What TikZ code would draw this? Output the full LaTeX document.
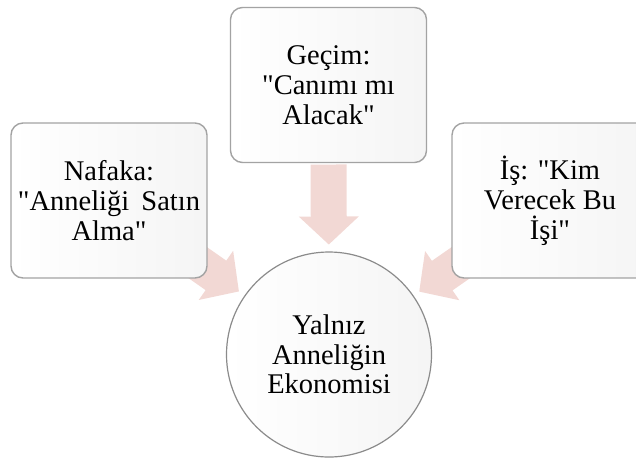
\documentclass[tikz,border=0pt]{standalone}
\usepackage{fontspec}
\setmainfont{Liberation Serif}[Ligatures=TeXOff]
\newfontfamily\diagfont{Liberation Serif}[Ligatures=TeXOff]
\usetikzlibrary{calc,backgrounds}
\definecolor{ArrowPink}{HTML}{F2D8D4}
\definecolor{BoxEdge}{HTML}{A3A3A3}
\newcommand{\blockarrow}[2]{%
  \coordinate (T) at ($(#2.center)!190pt!(#1.center)$);\coordinate (P) at ($(#2.center)!110pt!(#1.center)$);
  \coordinate (H) at ($(T)!52pt!(P)$);
  \fill[ArrowPink] ($(T)!18pt!90:(P)$)--($(H)!18pt!90:(P)$)--($(H)!30pt!90:(P)$)--(P)
    --($(H)!30pt!-90:(P)$)--($(H)!18pt!-90:(P)$)--($(T)!18pt!-90:(P)$)--cycle;}

\begin{document}
\begin{tikzpicture}[x=1pt,y=-1pt,line join=round,
  topic/.style={rectangle,rounded corners=12pt,draw=BoxEdge,line width=1.4pt,left color=white,right color=black!4,
    minimum width=196pt,minimum height=155pt,align=center,font=\diagfont\fontsize{28.5}{30}\selectfont},
  hub/.style={circle,draw=BoxEdge!85!black,line width=1.2pt,left color=white,right color=black!4,
    minimum size=205pt,inner sep=0pt,align=center,font=\diagfont\fontsize{28.5}{29.5}\selectfont}]
  \useasboundingbox (0,0) rectangle (636,459);
  \node[topic] (nafaka) at (109,200.5) {Nafaka:\\"Anneliği\hspace{5pt} Satın\\Alma"};
  \node[topic] (gecim) at (328.5,85) {Geçim:\\"Canımı mı\\Alacak"};
  \node[topic] (is) at (550,200.5) {İş: "Kim\\Verecek Bu\\İşi"};
  \node[hub] (yalniz) at (329,354.5) {Yalnız\\Anneliğin\\Ekonomisi};
  \begin{scope}[on background layer]
    \foreach \S in {nafaka,gecim,is}{\blockarrow{\S}{yalniz}}
  \end{scope}
\end{tikzpicture}
\end{document}
